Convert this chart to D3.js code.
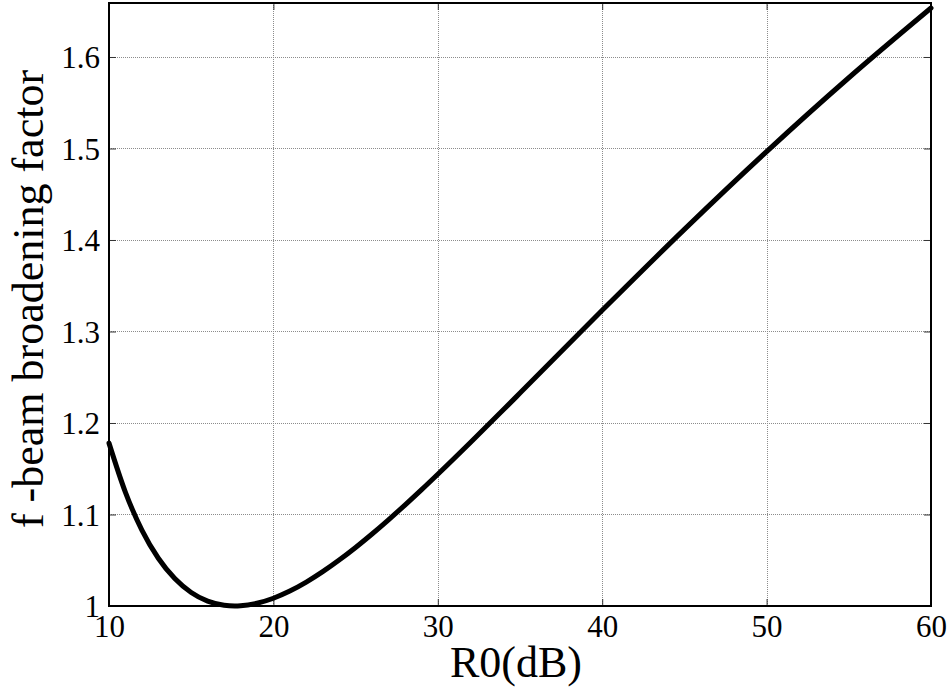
<!DOCTYPE html>
<html>
<head>
<meta charset="utf-8">
<script src="https://cdn.jsdelivr.net/npm/d3@7"></script>
<style>
  html, body { margin: 0; padding: 0; background: #fff; }
  svg { display: block; }
  text { font-family: "Liberation Serif", "Times New Roman", serif; fill: #000; }
</style>
</head>
<body>
<svg id="chart" width="949" height="689"></svg>
<script>
// Data
const r0Values = [10, 11, 12, 13, 14, 15, 16, 17, 17.65, 18, 19, 20, 21, 22, 23, 24, 25, 26, 27, 28, 29, 30, 32, 34, 35, 40, 45, 50, 55, 60];
const factorValues = [1.178, 1.1242, 1.0830, 1.0522, 1.0300, 1.0148, 1.0053, 1.0008, 1.0000, 1.0002, 1.0030, 1.0085, 1.0163, 1.0261, 1.0375, 1.0502, 1.0640, 1.0787, 1.0942, 1.1103, 1.1269, 1.1440, 1.1790, 1.2147, 1.2327, 1.3231, 1.4116, 1.4966, 1.5773, 1.6535];
const xTicks = [10, 20, 30, 40, 50, 60];
const yTicks = [1, 1.1, 1.2, 1.3, 1.4, 1.5, 1.6];
const xTitle = "R0(dB)";
const yTitle = "f -beam broadening factor";

const svg = d3.select("#chart");
const L = 109, R = 931, T = 3, B = 606;

const x = d3.scaleLinear().domain([10, 60]).range([L, R]);
const y = d3.scaleLinear().domain([1, 1.659]).range([B, T]);

// Grid
const grid = svg.append("g");
grid.selectAll(".gx").data(xTicks.slice(1, -1)).enter().append("line")
  .attr("x1", d => Math.round(x(d)) + 0.5).attr("x2", d => Math.round(x(d)) + 0.5)
  .attr("y1", T).attr("y2", B)
  .attr("stroke", "#8c8c8c").attr("stroke-width", 1).attr("stroke-dasharray", "1,1");
grid.selectAll(".gy").data(yTicks.slice(1)).enter().append("line")
  .attr("y1", d => Math.round(y(d)) + 0.5).attr("y2", d => Math.round(y(d)) + 0.5)
  .attr("x1", L).attr("x2", R)
  .attr("stroke", "#8c8c8c").attr("stroke-width", 1).attr("stroke-dasharray", "1,1");

// Axes with inward ticks
const tickLen = 7;
const xAxisB = d3.axisBottom(x).tickValues(xTicks).tickSize(-tickLen).tickFormat(d3.format("d"));
const xAxisT = d3.axisTop(x).tickValues(xTicks).tickSize(-tickLen).tickFormat("");
const yAxisL = d3.axisLeft(y).tickValues(yTicks).tickSize(-tickLen).tickFormat(d => d === 1 ? "1" : d3.format(".1f")(d));
const yAxisR = d3.axisRight(y).tickValues(yTicks).tickSize(-tickLen).tickFormat("");

function style(g) {
  g.select(".domain").remove();
  g.attr("font-family", null).attr("font-size", null);
  g.selectAll(".tick line").attr("stroke", "#333").attr("stroke-width", 1);
  g.selectAll(".tick text").style("font-size", "31px");
}
svg.append("g").attr("transform", `translate(0,${B})`).call(xAxisB).call(style)
  .selectAll(".tick text").attr("y", 31).attr("dy", 0);
svg.append("g").attr("transform", `translate(0,${T})`).call(xAxisT).call(style);
svg.append("g").attr("transform", `translate(${L},0)`).call(yAxisL).call(style)
  .selectAll(".tick text").attr("x", -9).attr("dy", "0.34em");
svg.append("g").attr("transform", `translate(${R},0)`).call(yAxisR).call(style);

// Curve
const line = d3.line().x(d => x(d[0])).y(d => y(d[1])).curve(d3.curveMonotoneX);
const pts = r0Values.map((v, i) => [v, factorValues[i]]);
svg.append("path").datum(pts).attr("d", line)
  .attr("fill", "none").attr("stroke", "#000").attr("stroke-width", 5)
  .attr("stroke-linejoin", "round").attr("stroke-linecap", "round");

// Box
svg.append("rect").attr("x", L).attr("y", T).attr("width", R - L).attr("height", B - T)
  .attr("fill", "none").attr("stroke", "#000").attr("stroke-width", 2);

// Titles
svg.append("text").attr("x", 516).attr("y", 677).attr("text-anchor", "middle")
  .style("font-size", "44px").text(xTitle);
svg.append("text").attr("transform", `translate(43,299) rotate(-90)`)
  .attr("text-anchor", "middle").style("font-size", "44px").text(yTitle);
</script>
</body>
</html>
